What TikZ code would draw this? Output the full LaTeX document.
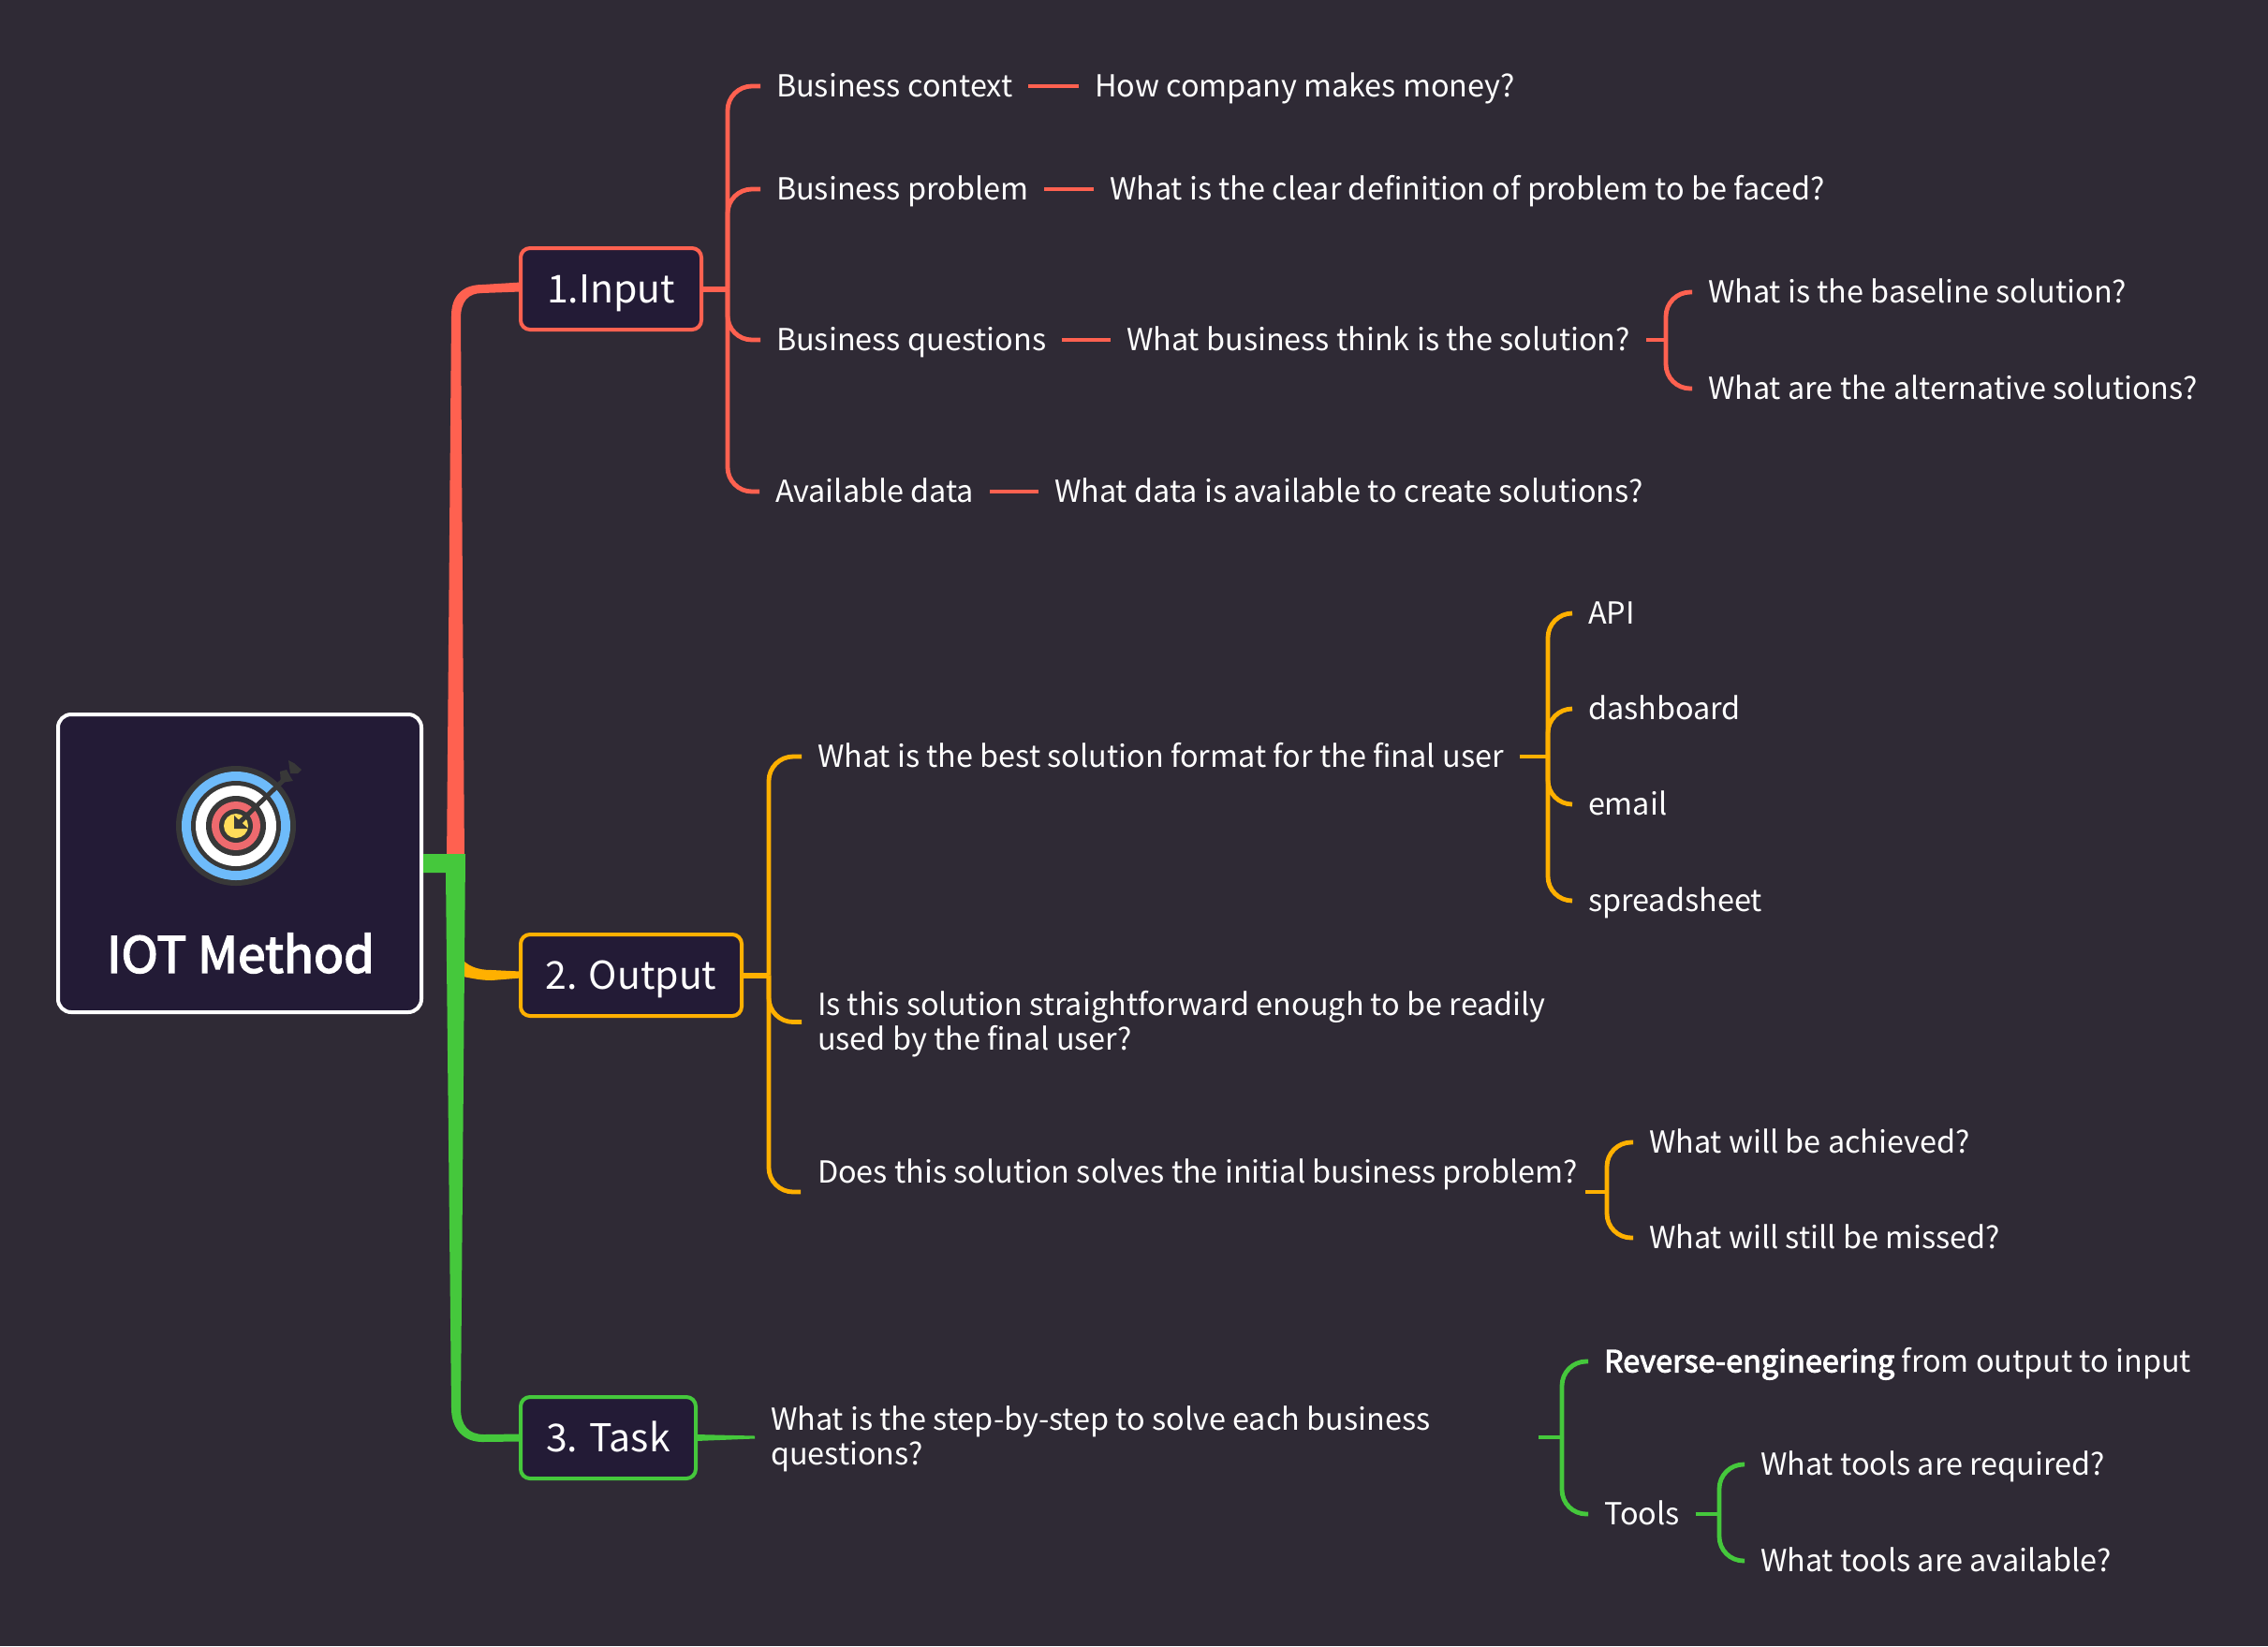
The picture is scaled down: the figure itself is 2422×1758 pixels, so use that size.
\documentclass[tikz,border=0pt]{standalone}
\usepackage{fontspec}
\setmainfont{Noto Sans CJK SC}
\newfontfamily\fakebf[FakeBold=3]{Noto Sans CJK SC}
\definecolor{bgC}{HTML}{2F2A35}
\definecolor{boxC}{HTML}{231B36}
\definecolor{redC}{HTML}{FF6150}
\definecolor{oraC}{HTML}{FFB000}
\definecolor{grnC}{HTML}{45C83C}
\definecolor{icoD}{HTML}{383838}
\definecolor{icoB}{HTML}{6EBBFA}
\definecolor{icoR}{HTML}{EE6A6E}
\definecolor{icoY}{HTML}{FFDC5A}
\tikzstyle{tx}=[white,anchor=west,inner sep=0pt,outer xsep=8.5pt,outer ysep=0pt,text height=14.5pt,text depth=3pt,font=\fontsize{16.2}{18.5}\selectfont]
\tikzstyle{tx2}=[tx,text height=,text depth=,align=left]
\tikzstyle{topic}=[white,anchor=west,rectangle,rounded corners=5pt,fill=boxC,line width=2pt,outer sep=0pt,inner sep=0pt,minimum height=43.5pt,text height=17.5pt,text depth=3pt,font=\fontsize{20.5}{24}\selectfont]
\tikzstyle{br}=[line width=2.4pt,rounded corners=13pt]
\tikzstyle{stub}=[line width=3pt]
\tikzstyle{lnk}=[line width=2.4pt]
\begin{document}
\begin{tikzpicture}[x=.5pt,y=-.5pt]
  \useasboundingbox (0,0) rectangle (2422,1758);
  \fill[bgC] (0,0) rectangle (2422,1758);
  % root box
  \node[rectangle,rounded corners=7pt,fill=boxC,draw=white,line width=2pt,minimum width=194pt,minimum height=159pt,outer sep=1pt] (root) at (256,922) {};
  \node[white,inner sep=0pt,font=\fontsize{26.5}{32}\fakebf] (title) at (257,1018) {IOT Method};
  % target icon
  \foreach \r/\c in {64/icoD,58/icoB,48/icoD,43/white,32/icoD,26/icoR,18/icoD,13/icoY}
    {\fill[\c] (252,882) circle[radius=\r*.5pt];}
  \draw[icoD,line width=2.5pt] (252,882) -- (306,830);
  \fill[icoD] (250,885) -- (250,871) -- (265,885) -- cycle;
  \fill[icoD] (299,824) -- (306,822) -- (311,831) -- (313,834) -- (300,836) -- cycle;
  \fill[icoD] (308,812) -- (314,815) -- (322,822) -- (318,826) -- (310,826) -- cycle;
  % topics
  \node[topic,draw=redC,minimum width=96.5pt] (inp) at (556,308.5) {1.Input};
  \node[topic,draw=oraC,minimum width=118pt] (out) at (556,1041.5) {2. Output};
  \node[topic,draw=grnC,minimum width=93.5pt] (tsk) at (556,1535.5) {3. Task};
  % trunk
  \fill[redC] (477,922) -- (482,337) .. controls (482,315) and (495,304) .. (515,304) -- ([yshift=3.5pt]inp.west) -- ([yshift=-1.5pt]inp.west) -- (515,313) .. controls (500,313) and (492,322) .. (492,340) -- (496,922) -- cycle;
  \fill[oraC] (490,1020) .. controls (498,1032) and (510,1036) .. (525,1036) -- ([yshift=2pt]out.west) -- ([yshift=-1.5pt]out.west) -- (525,1047) .. controls (512,1047) and (500,1044) .. (490,1042) -- cycle;
  \fill[grnC] (root.east |- 0,912) -- (497,912) -- (492,1504) .. controls (492,1522) and (500,1532) .. (517,1532) -- ([yshift=2pt]tsk.west) -- ([yshift=-2pt]tsk.west) -- (515,1540) .. controls (495,1540) and (482,1526) .. (482,1504) -- (476,932) -- (root.east |- 0,932) -- cycle;
  % texts
  \foreach \n/\x/\y/\t in {
      bc1/812/92/Business context,bc2/1152/92/How company makes money?,
      bp1/812/202/Business problem,bp2/1168/202/What is the clear definition of problem to be faced?,
      bq1/812/363/Business questions,bq2/1186/363/What business think is the solution?,
      bq3/1807/312/What is the baseline solution?,bq4/1807/415/What are the alternative solutions?,
      ad1/811/525/Available data,ad2/1109/525/What data is available to create solutions?,
      fm1/856/808/What is the best solution format for the final user,
      fm2/1679/655/API,fm3/1679/757/dashboard,fm4/1679/859/email,fm5/1679/962/spreadsheet,
      ds1/856/1252/Does this solution solves the initial business problem?,
      ds2/1744/1220/What will be achieved?,ds3/1744/1322/What will still be missed?,
      tl1/1696/1454/{{\fakebf Reverse-engineering} from output to input},tl2/1696/1617/Tools,
      tl3/1863/1564/What tools are required?,tl4/1863/1667/What tools are available?}
    {\node[tx] (\n) at (\x,\y) {\t};}
  \node[tx2] (st1) at (856,1094) {Is this solution straightforward enough to be readily\\used by the final user?};
  \node[tx2] (ts1) at (806,1537) {What is the step-by-step to solve each business\\questions?};
  % junctions
  \coordinate (jInp) at (777,308.5);
  \coordinate (jBq) at (1779,363);
  \coordinate (jOut) at (821,1041.5);
  \coordinate (jFm) at (1653,808);
  \coordinate (jDs) at (1716,1273);
  \coordinate (oDs) at (1693,1273);
  \coordinate (eDs) at (855,1273);
  \coordinate (jTsk) at (1668,1535);
  \coordinate (oTs) at (1643,1535);
  \coordinate (jTl) at (1836,1617);
  % input branch
  \draw[stub,redC] (inp.east) -- (jInp);
  \foreach \c in {bc1,bp1,bq1,ad1} {\draw[br,redC] (jInp) |- (\c.west);}
  \foreach \a/\b in {bc1/bc2,bp1/bp2,bq1/bq2,ad1/ad2} {\draw[lnk,redC] (\a) -- (\b);}
  \draw[lnk,redC] (bq2) -- (jBq);
  \foreach \c in {bq3,bq4} {\draw[br,redC] (jBq) |- (\c.west);}
  % output branch
  \draw[stub,oraC] (out.east) -- (jOut);
  \draw[br,oraC] (jOut) |- (fm1.west);
  \draw[br,oraC] (jOut) |- ([yshift=1.25pt]st1.west);
  \draw[br,oraC] (jOut) |- (eDs);
  \draw[lnk,oraC] (fm1) -- (jFm);
  \foreach \c in {fm2,fm3,fm4,fm5} {\draw[br,oraC] (jFm) |- (\c.west);}
  \draw[lnk,oraC] (oDs) -- (jDs);
  \foreach \c in {ds2,ds3} {\draw[br,oraC] (jDs) |- (\c.west);}
  % task branch
  \fill[grnC] ([yshift=1.75pt]tsk.east) -- ([yshift=1.75pt]ts1.west) -- ([yshift=.25pt]ts1.west) -- ([yshift=-1.75pt]tsk.east) -- cycle;
  \draw[lnk,grnC] (oTs) -- (jTsk);
  \foreach \c in {tl1,tl2} {\draw[br,grnC] (jTsk) |- (\c.west);}
  \draw[lnk,grnC] (tl2) -- (jTl);
  \foreach \c in {tl3,tl4} {\draw[br,grnC] (jTl) |- (\c.west);}
\end{tikzpicture}
\end{document}
